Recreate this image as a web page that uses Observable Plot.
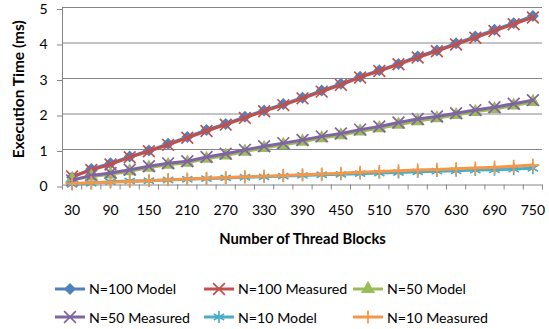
<!DOCTYPE html>
<html><head><meta charset="utf-8">
<script src="https://cdn.jsdelivr.net/npm/d3@7"></script>
<script src="https://cdn.jsdelivr.net/npm/@observablehq/plot@0.6"></script>
<style>
body{margin:0;background:#fff;font-family:Lato,sans-serif;}
#wrap{position:relative;width:549px;height:329px;overflow:hidden;background:#fff}
.leg{position:absolute;display:flex;align-items:center;font-size:14.2px;white-space:nowrap;color:#000;height:16px}
.leg svg{margin-right:3px}
</style></head><body><div id="wrap"></div>
<script>
const blocks = [30,60,90,120,150,180,210,240,270,300,330,360,390,420,450,480,510,540,570,600,630,660,690,720,750];
const xTickLabels = [30,90,150,210,270,330,390,450,510,570,630,690,750];
const yTicks = [0,1,2,3,4,5];
const n100Model    = [0.22,0.45,0.61,0.80,0.97,1.16,1.35,1.55,1.72,1.92,2.10,2.28,2.46,2.66,2.85,3.05,3.23,3.41,3.62,3.79,3.99,4.18,4.37,4.56,4.76];
const n100Measured = [0.24,0.42,0.58,0.78,0.95,1.13,1.33,1.52,1.70,1.89,2.08,2.25,2.44,2.63,2.82,3.03,3.21,3.40,3.59,3.77,3.96,4.15,4.34,4.53,4.72];
const n50Model     = [0.16,0.24,0.30,0.39,0.49,0.57,0.63,0.74,0.83,0.94,1.04,1.13,1.22,1.32,1.40,1.51,1.60,1.70,1.80,1.88,1.97,2.06,2.14,2.24,2.34];
const n50Measured  = [0.13,0.27,0.34,0.43,0.53,0.61,0.67,0.79,0.88,0.99,1.09,1.18,1.27,1.37,1.45,1.56,1.65,1.76,1.86,1.93,2.02,2.11,2.19,2.29,2.39];
const n10Model     = [0.02,0.05,0.09,0.11,0.12,0.14,0.16,0.18,0.20,0.22,0.23,0.25,0.27,0.29,0.30,0.32,0.34,0.35,0.37,0.39,0.40,0.42,0.43,0.45,0.47];
const n10Measured  = [0.04,0.06,0.08,0.10,0.12,0.15,0.17,0.19,0.21,0.23,0.25,0.27,0.29,0.31,0.33,0.36,0.38,0.40,0.42,0.44,0.46,0.48,0.50,0.53,0.56];
const seriesNames = ["N=100 Model","N=100 Measured","N=50 Model","N=50 Measured","N=10 Model","N=10 Measured"];
const seriesValues = [n100Model,n100Measured,n50Model,n50Measured,n10Model,n10Measured];

const styles = [
  {color:"#4F81BD", symbol:"diamond2", filled:true,  r:5.4},
  {color:"#C0504D", symbol:"times",    filled:false, r:5.4},
  {color:"#9BBB59", symbol:"triangle", filled:true,  r:5.2},
  {color:"#8064A2", symbol:"times",    filled:false, r:5.4},
  {color:"#4BACC6", symbol:"asterisk", filled:false, r:5.6},
  {color:"#F79646", symbol:"plus",     filled:false, r:4.3}
];

const data = seriesNames.map((name, k) => blocks.map((b, i) => ({series:name, blocks:b, time:seriesValues[k][i]})));
const boundaries = blocks.map(b => b - 15).concat([765]);

const grid = "#868686";
const FS = 14;
const marks = [
  Plot.ruleY(yTicks.slice(1), {x1: 15, x2: 765, stroke: grid, strokeWidth: 1}),
  Plot.axisY(yTicks, {tickSize: 5, tickPadding: 10, stroke: grid, fill: "#000", fontSize: FS, dy: 2, label: null}),
  Plot.axisX(boundaries, {tickSize: 5, tickFormat: () => "", stroke: grid, label: null}),
  Plot.axisX(xTickLabels, {tickSize: 0, tickPadding: 20, fill: "#000", fontSize: FS, label: null}),
  Plot.ruleX([15], {stroke: grid}),
  Plot.ruleY([0], {x1: 15, x2: 765, stroke: grid}),
  Plot.text(["Execution Time (ms)"], {frameAnchor: "left", textAnchor: "middle", rotate: -90, dx: -43, dy: -7, fontWeight: "bold", fontSize: 15.5, fill: "#000"}),
  Plot.text(["Number of Thread Blocks"], {frameAnchor: "bottom", dy: 58.5, fontWeight: "bold", fontSize: 14.8, fill: "#000"})
];
data.forEach((d, k) => {
  const s = styles[k];
  marks.push(Plot.line(d, {x: "blocks", y: "time", stroke: s.color, strokeWidth: 3, strokeLinejoin: "round", strokeLinecap: "round"}));
  marks.push(Plot.dot(d, {x: "blocks", y: "time", symbol: () => s.symbol, r: s.r,
    fill: s.filled ? s.color : "none", stroke: s.filled ? "none" : s.color, strokeWidth: s.filled ? 0 : 1.7}));
});

const chart = Plot.plot({
  width: 549, height: 260,
  marginLeft: 62, marginRight: 7, marginTop: 7, marginBottom: 75.5,
  style: {fontFamily: "Lato, sans-serif", fontSize: "14px", background: "#fff", color: "#000", overflow: "visible"},
  x: {type: "linear", domain: [15, 765], axis: null},
  y: {domain: [0, 5], axis: null},
  symbol: {type: "identity"},
  marks
});
const wrap = document.getElementById("wrap");
wrap.appendChild(chart);

// legend
const legPos = [[54,288.5],[203,288.5],[352,288.5],[54,317],[203,317],[352,317]];
const symMap = {diamond2: d3.symbolDiamond2, times: d3.symbolTimes, triangle: d3.symbolTriangle, asterisk: d3.symbolAsterisk, plus: d3.symbolPlus};
seriesNames.forEach((name, k) => {
  const s = styles[k];
  const div = document.createElement("div");
  div.className = "leg";
  div.style.left = legPos[k][0] + "px";
  div.style.top = (legPos[k][1] - 8) + "px";
  const size = Math.PI * s.r * s.r;
  const path = d3.symbol(symMap[s.symbol], size)();
  div.innerHTML = `<svg width="32" height="16"><line x1="1" x2="31" y1="8" y2="8" stroke="${s.color}" stroke-width="3"/>` +
    `<path transform="translate(16,8)" d="${path}" fill="${s.filled ? s.color : "none"}" stroke="${s.filled ? "none" : s.color}" stroke-width="1.7"/></svg><span>${name}</span>`;
  wrap.appendChild(div);
});
</script></body></html>
